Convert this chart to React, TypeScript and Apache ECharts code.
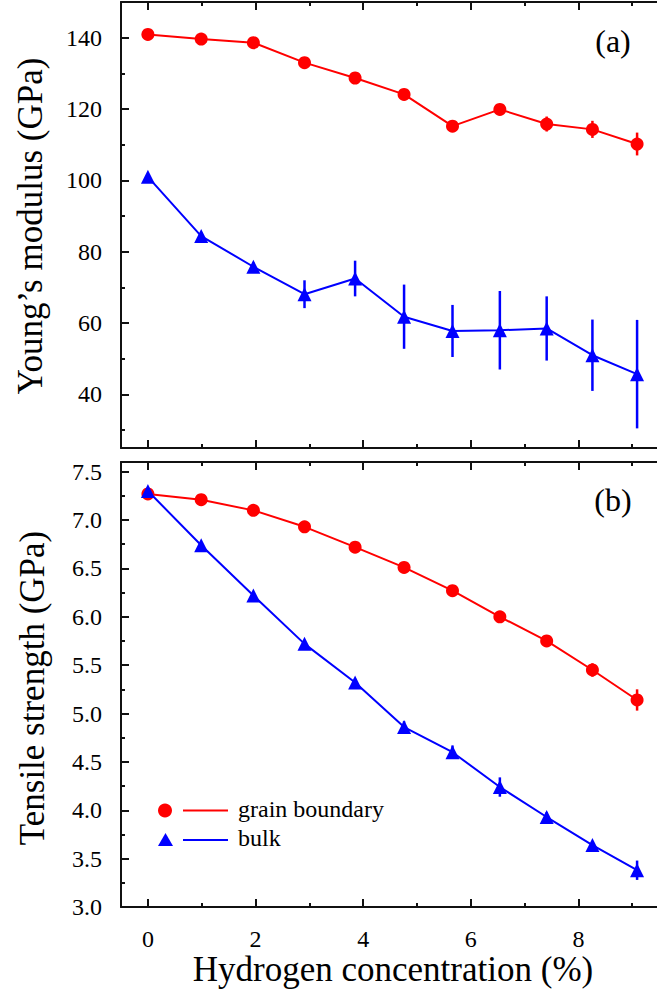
import React, { useEffect, useRef } from "react";
import * as echarts from "echarts";

// Hydrogen concentration (%) for n = 0..10 H atoms
const conc = [0, 0.99, 1.96, 2.91, 3.85, 4.76, 5.66, 6.54, 7.41, 8.26, 9.09];

// (a) Young's modulus (GPa)
const ymGB = [140.9, 139.6, 138.6, 133.0, 128.7, 124.1, 115.2, 119.9, 115.8, 114.3, 110.2];
const ymGBErr = [0.4, 0.5, 0.5, 0.6, 0.7, 0.9, 1.2, 1.3, 2.1, 2.4, 3.2];
const ymBulk = [101.0, 84.4, 75.8, 68.1, 72.5, 61.8, 57.8, 58.0, 58.5, 51.0, 45.7];
const ymBulkErr = [0.8, 1.0, 1.2, 3.9, 5.0, 9.0, 7.3, 11.0, 9.0, 10.0, 15.2];

// (b) Tensile strength (GPa)
const tsGB = [7.27, 7.21, 7.1, 6.93, 6.72, 6.51, 6.27, 6.0, 5.75, 5.45, 5.14];
const tsGBErr = [0.01, 0.01, 0.01, 0.01, 0.02, 0.02, 0.02, 0.03, 0.04, 0.07, 0.11];
const tsBulk = [7.3, 6.74, 6.22, 5.72, 5.32, 4.86, 4.6, 4.24, 3.93, 3.64, 3.38];
const tsBulkErr = [0.02, 0.02, 0.02, 0.03, 0.04, 0.06, 0.07, 0.1, 0.05, 0.04, 0.1];

// tick values
const xMajor = [0, 2, 4, 6, 8];
const xMinor = [1, 3, 5, 7, 9];
const ymMajor = [40, 60, 80, 100, 120, 140];
const ymMinor = [30, 50, 70, 90, 110, 130, 150];
const tsMajor = [3.0, 3.5, 4.0, 4.5, 5.0, 5.5, 6.0, 6.5, 7.0, 7.5];
const tsMinor = [3.25, 3.75, 4.25, 4.75, 5.25, 5.75, 6.25, 6.75, 7.25];

const seriesNames = ["grain boundary", "bulk"];
const RED = "#ff0000";
const BLUE = "#0000ff";
const FONT = "Liberation Serif";
const AX = "#111111";

export default function App() {
  const ref = useRef<HTMLDivElement>(null);
  useEffect(() => {
    if (!ref.current) return;
    const chart = echarts.init(ref.current, null, { renderer: "svg" });

    const xBase = (grid: number, pos: "top" | "bottom", major: boolean, labels: boolean, name?: string) => ({
      type: "value",
      gridIndex: grid,
      position: pos,
      min: -0.5,
      max: 9.46,
      splitLine: { show: false },
      axisLine: { show: major, onZero: false, lineStyle: { color: AX, width: 2 } },
      axisTick: {
        show: true,
        inside: true,
        length: major ? 8 : 4,
        customValues: major ? xMajor : xMinor,
        lineStyle: { color: AX, width: 2 },
      },
      axisLabel: {
        show: labels,
        customValues: xMajor,
        margin: 20,
        fontFamily: FONT,
        fontSize: 24,
        color: "#000",
      },
      name: name,
      nameLocation: "middle",
      nameGap: 44,
      nameTextStyle: { fontFamily: FONT, fontSize: 35, color: "#000", padding: [0, 0, 0, 8] },
    });

    const yBase = (grid: number, min: number, max: number, major: boolean, vals: number[], fmt?: (v: number) => string) => ({
      type: "value",
      gridIndex: grid,
      position: "left",
      min,
      max,
      splitLine: { show: false },
      axisLine: { show: major, onZero: false, lineStyle: { color: AX, width: 2 } },
      axisTick: {
        show: true,
        inside: true,
        length: major ? 8 : 4,
        customValues: vals,
        lineStyle: { color: AX, width: 2 },
      },
      axisLabel: {
        show: major,
        customValues: vals,
        margin: 19,
        fontFamily: FONT,
        fontSize: 24,
        color: "#000",
        formatter: fmt,
      },
    });

    const errBar = (xi: number, yi: number, vals: number[], errs: number[], color: string, name: string) => ({
      type: "custom",
      name: name + " error",
      xAxisIndex: xi,
      yAxisIndex: yi,
      z: 1,
      silent: true,
      data: conc.map((c, i) => [c, vals[i] - errs[i], vals[i] + errs[i]]),
      encode: { x: 0, y: [1, 2] },
      renderItem: (params: any, api: any) => {
        const x = api.value(0);
        const p1 = api.coord([x, api.value(1)]);
        const p2 = api.coord([x, api.value(2)]);
        return {
          type: "line",
          shape: { x1: p1[0], y1: p1[1], x2: p2[0], y2: p2[1] },
          style: { stroke: color, lineWidth: 2.5 },
        };
      },
    });

    const lineSeries = (xi: number, yi: number, vals: number[], color: string, symbol: string, size: number, name: string) => ({
      type: "line",
      name,
      xAxisIndex: xi,
      yAxisIndex: yi,
      z: 3,
      data: conc.map((c, i) => [c, vals[i]]),
      symbol,
      symbolSize: size,
      showAllSymbol: true,
      lineStyle: { color, width: 2 },
      itemStyle: { color },
    });

    const txt = (text: string, x: number, y: number, size: number, align: string, rot = 0) => ({
      type: "text",
      x,
      y,
      rotation: rot,
      style: {
        text,
        fontFamily: FONT,
        fontSize: size,
        fill: "#000",
        align,
        verticalAlign: "middle",
      },
    });

    const option: any = {
      animation: false,
      backgroundColor: "#ffffff",
      grid: [
        { left: 121, right: -2, top: 2, height: 446 },
        { left: 121, right: -2, top: 462, height: 445 },
      ],
      xAxis: [
        xBase(0, "bottom", true, false),
        xBase(0, "bottom", false, false),
        xBase(0, "top", true, false),
        xBase(0, "top", false, false),
        xBase(1, "bottom", true, true, "Hydrogen concentration (%)"),
        xBase(1, "bottom", false, false),
        xBase(1, "top", true, false),
        xBase(1, "top", false, false),
      ],
      yAxis: [
        yBase(0, 25, 150, true, ymMajor),
        yBase(0, 25, 150, false, ymMinor),
        yBase(1, 3.0, 7.6, true, tsMajor, (v: number) => v.toFixed(1)),
        yBase(1, 3.0, 7.6, false, tsMinor),
      ],
      series: [
        errBar(0, 0, ymGB, ymGBErr, RED, seriesNames[0]),
        errBar(0, 0, ymBulk, ymBulkErr, BLUE, seriesNames[1]),
        lineSeries(0, 0, ymGB, RED, "circle", 13, seriesNames[0]),
        lineSeries(0, 0, ymBulk, BLUE, "triangle", 14, seriesNames[1]),
        errBar(4, 2, tsGB, tsGBErr, RED, seriesNames[0]),
        errBar(4, 2, tsBulk, tsBulkErr, BLUE, seriesNames[1]),
        lineSeries(4, 2, tsGB, RED, "circle", 13, seriesNames[0]),
        lineSeries(4, 2, tsBulk, BLUE, "triangle", 14, seriesNames[1]),
      ],
      graphic: [
        txt("Young\u2019s modulus (GPa)", 30, 226, 35, "center", Math.PI / 2),
        txt("Tensile strength (GPa)", 32, 688, 35, "center", Math.PI / 2),
        txt("(a)", 613, 41, 32, "center"),
        txt("(b)", 613, 500, 32, "center"),
        // legend
        { type: "circle", shape: { cx: 165, cy: 810.5, r: 7 }, style: { fill: RED } },
        { type: "line", shape: { x1: 183, y1: 810.5, x2: 228, y2: 810.5 }, style: { stroke: RED, lineWidth: 2 } },
        txt(seriesNames[0], 238, 809, 24, "left"),
        {
          type: "polygon",
          shape: { points: [[165.5, 833], [173, 846], [158, 846]] },
          style: { fill: BLUE },
        },
        { type: "line", shape: { x1: 183, y1: 840, x2: 228, y2: 840 }, style: { stroke: BLUE, lineWidth: 2 } },
        txt(seriesNames[1], 238, 838, 24, "left"),
      ],
    };
    chart.setOption(option);
    return () => chart.dispose();
  }, []);
  return (
    <div
      ref={ref}
      style={{ position: "absolute", left: 0, top: 0, width: 657, height: 1000, background: "#fff" }}
    />
  );
}
